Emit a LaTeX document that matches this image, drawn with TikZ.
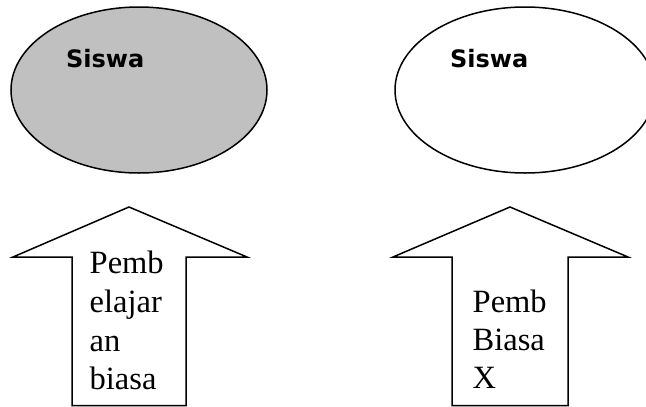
\documentclass[tikz,border=0pt]{standalone}
\usepackage{fontspec}
\setmainfont{Liberation Serif}
\newfontfamily\labelsans{DejaVu Sans}
\definecolor{ovalgray}{HTML}{C0C0C0}
\begin{document}
\begin{tikzpicture}[x=1pt,y=-1pt,
  outline/.style={draw=black,line width=1.5pt,line join=miter},
  siswatext/.style={font=\labelsans\bfseries\fontsize{24}{28}\selectfont,inner sep=0pt,anchor=base west},
  arrowtext/.style={font=\fontsize{32.5}{38}\selectfont,inner sep=0pt,anchor=base west}]
\useasboundingbox (0,0) rectangle (646,407);
\begin{scope}
\clip (0,0) rectangle (646,407);
% ellipses
\draw[outline,fill=ovalgray] (139,90) ellipse [x radius=128, y radius=83];
\draw[outline,fill=white] (525,90) ellipse [x radius=130, y radius=83];
\node[siswatext] (s1) at (66,67.5) {Siswa};
\node[siswatext] (s2) at (450,67.5) {Siswa};
% arrows
\draw[outline] (72,405.5) -- (72,257) -- (13,257) -- (129,207) -- (247,257) -- (186,257) -- (186,405.5) -- cycle;
\draw[outline] (452,405.5) -- (452,257) -- (393,257) -- (510,207) -- (628,257) -- (568,257) -- (568,405.5) -- cycle;
\end{scope}
\node[arrowtext] (a1) at (89.5,273) {Pemb};
\node[arrowtext] (a2) at (89.5,312) {elajar};
\node[arrowtext] (a3) at (89.5,351) {an};
\node[arrowtext] (a4) at (89.5,389) {biasa};
\node[arrowtext] (b1) at (472.5,312) {Pemb};
\node[arrowtext] (b2) at (472.5,350) {Biasa};
\node[arrowtext] (b3) at (472.5,388) {X};
\end{tikzpicture}
\end{document}
